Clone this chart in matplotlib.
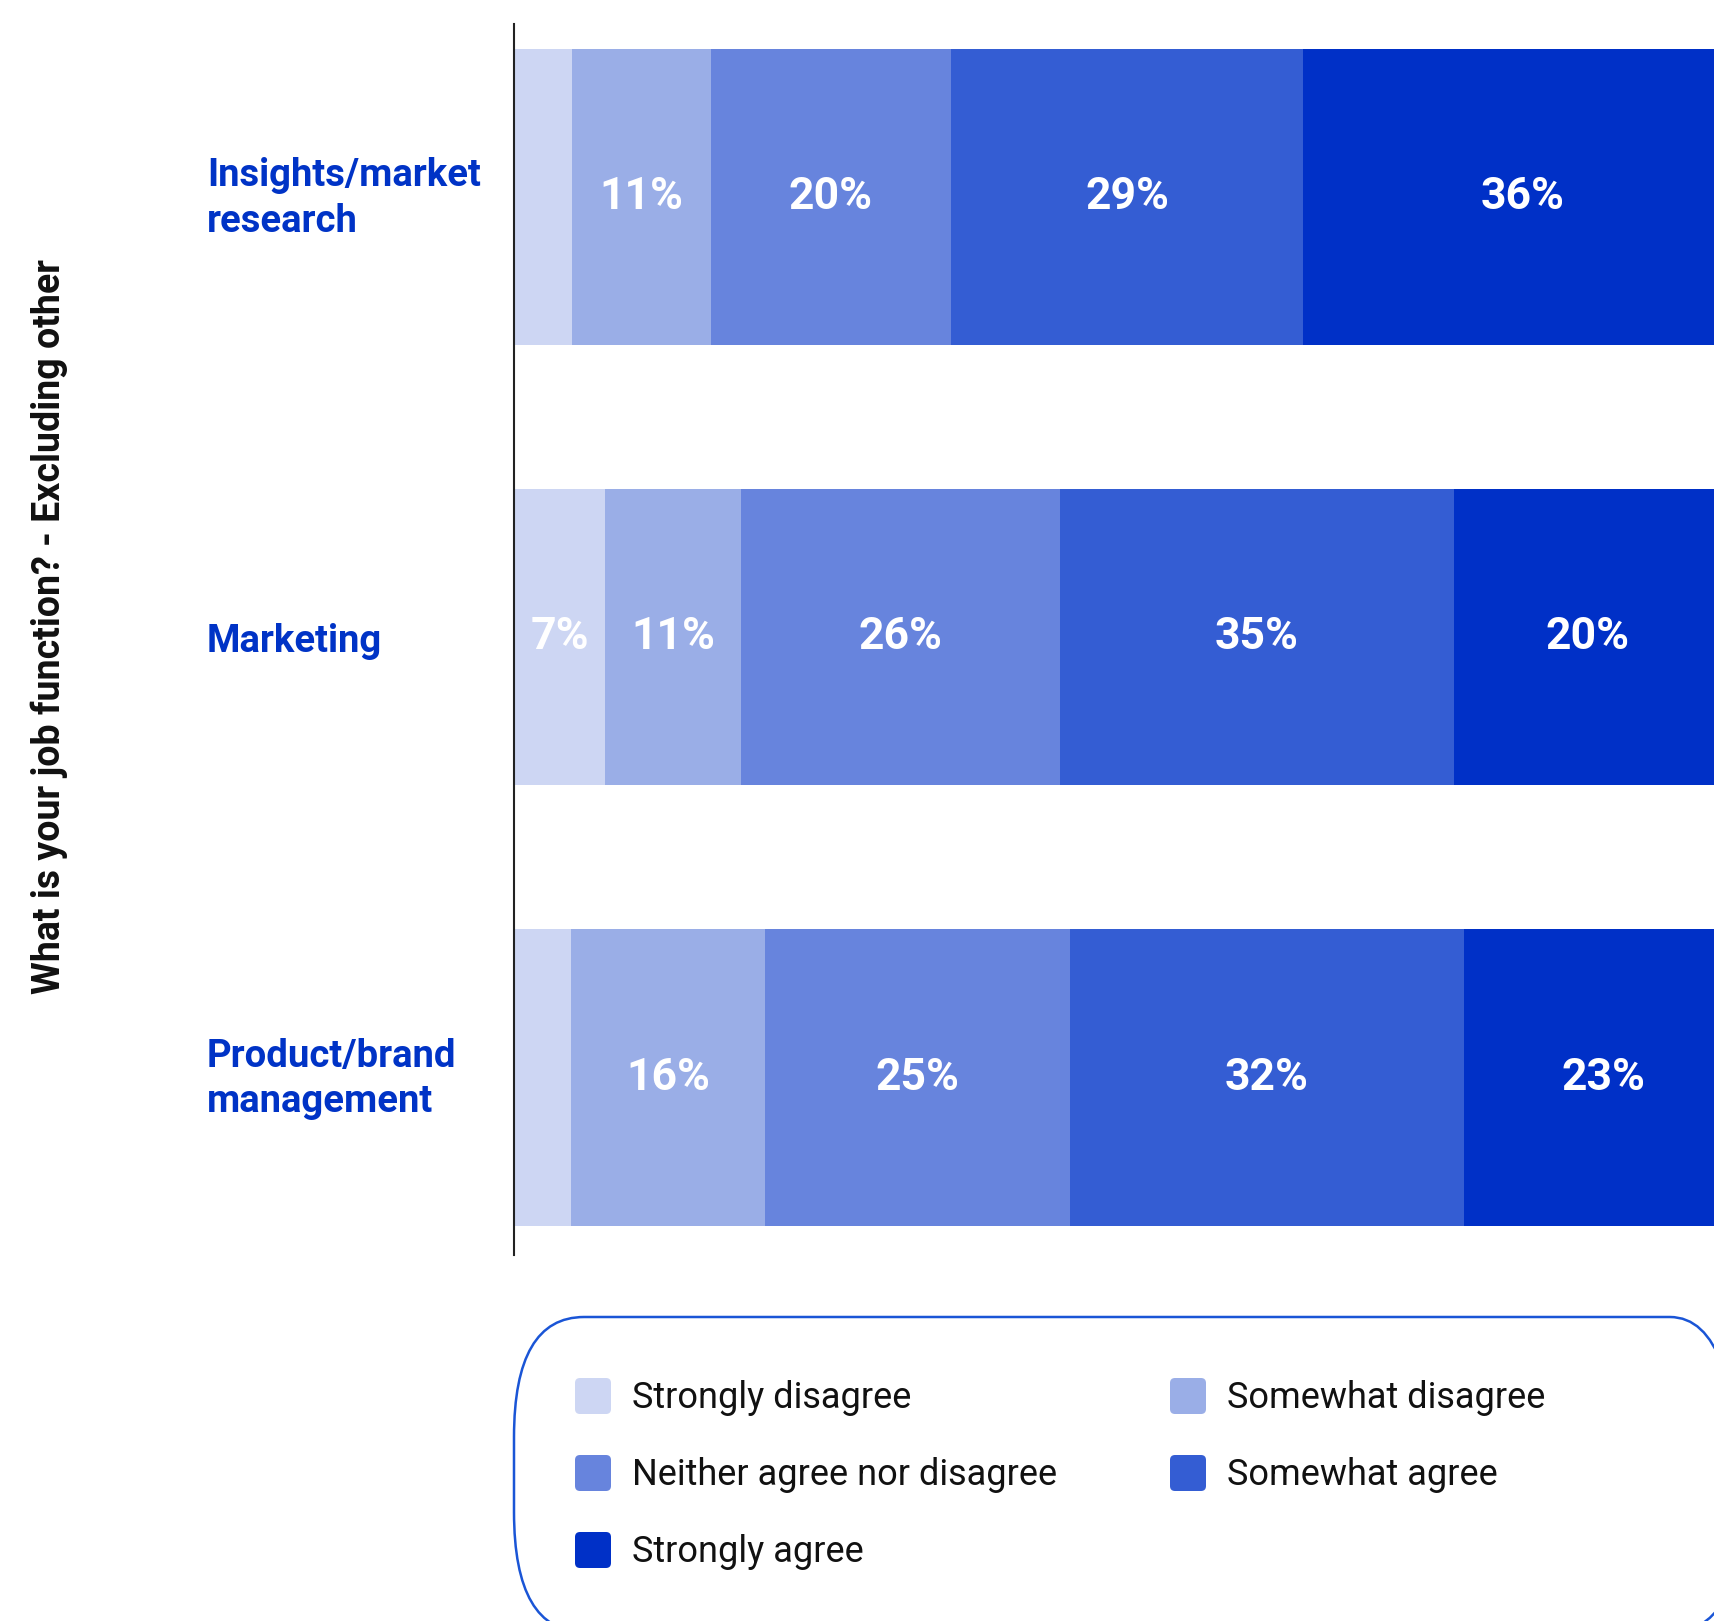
import matplotlib
matplotlib.use("Agg")
import matplotlib.pyplot as plt
import matplotlib.transforms as mtransforms
from matplotlib.patches import FancyBboxPatch
import numpy as np

# ---------------- data ----------------
categories = ["Insights/market\nresearch", "Marketing", "Product/brand\nmanagement"]
responses = ["Strongly disagree", "Somewhat disagree", "Neither agree nor disagree",
             "Somewhat agree", "Strongly agree"]
strongly_disagree = [4.75, 7.5, 4.7]
somewhat_disagree = [11.4, 11.1, 15.9]
neither = [19.7, 26.2, 25.0]
somewhat_agree = [28.9, 32.3, 32.3]
strongly_agree = [36.0, 22.0, 23.0]
labels_strongly_disagree = ["", "7%", ""]
labels_somewhat_disagree = ["11%", "11%", "16%"]
labels_neither = ["20%", "26%", "25%"]
labels_somewhat_agree = ["29%", "35%", "32%"]
labels_strongly_agree = ["36%", "20%", "23%"]

series = [strongly_disagree, somewhat_disagree, neither, somewhat_agree, strongly_agree]
series_labels = [labels_strongly_disagree, labels_somewhat_disagree, labels_neither,
                 labels_somewhat_agree, labels_strongly_agree]
colors = ["#CDD6F3", "#9AAEE7", "#6784DD", "#345DD3", "#0030C7"]
cat_color = "#0033C6"

# ---------------- figure ----------------
W, H = 1714, 1621
fig = plt.figure(figsize=(W / 100, H / 100), dpi=100)
fig.patch.set_facecolor("white")

ax = fig.add_axes([514 / W, 1 - 1255 / H, 1200 / W, (1255 - 24) / H])
ax.set_xlim(0, 98.45)
ax.set_ylim(2.403, -0.393)

y = np.arange(len(categories))
left = np.zeros(len(categories))
for vals, labs, col in zip(series, series_labels, colors):
    vals = np.asarray(vals)
    ax.barh(y, vals, left=left, height=0.673, color=col, edgecolor="none")
    for yi, l, v, t in zip(y, left, vals, labs):
        if t:
            ax.text(l + v / 2, yi, t, ha="center", va="center", color="white",
                    fontsize=32, fontweight="bold", family="Roboto")
    left += vals

for s in ["top", "right", "bottom"]:
    ax.spines[s].set_visible(False)
ax.spines["left"].set_color("#222222")
ax.spines["left"].set_linewidth(1.5)
ax.set_xticks([])
ax.set_yticks(y)
ax.set_yticklabels(categories, ha="left", color=cat_color, fontsize=27.5,
                   fontweight="bold", family="Roboto", linespacing=1.3)
ax.tick_params(axis="y", length=0, pad=307 * 72 / 100)
for lab in ax.get_yticklabels():
    if "\n" in lab.get_text():
        lab.set_transform(lab.get_transform() +
                          mtransforms.ScaledTranslation(0, 7 / 100, fig.dpi_scale_trans))

fig.text(49 / W, 1 - 627 / H, "What is your job function? - Excluding other",
         rotation=90, ha="center", va="center", fontsize=27, fontweight="bold",
         family="Roboto", color="#111111")

# ---------------- legend ----------------
box = FancyBboxPatch((514 / W, 1 - 1632 / H), (1740 - 514) / W, (1632 - 1317) / H,
                     boxstyle=f"round,pad=0,rounding_size={70 / W}",
                     mutation_aspect=(120 / H) / (70 / W),
                     transform=fig.transFigure, fill=False, edgecolor="#1A55D6",
                     linewidth=1.8, clip_on=False)
fig.add_artist(box)

col_x = [575, 1170]
row_y = [1396, 1473, 1550]
sq = 36
for i, (name, col) in enumerate(zip(responses, colors)):
    cx = col_x[i % 2]
    cy = row_y[i // 2]
    p = FancyBboxPatch((cx / W, 1 - (cy + sq / 2) / H), sq / W, sq / H,
                       boxstyle=f"round,pad=0,rounding_size={5 / W}",
                       mutation_aspect=W / H, transform=fig.transFigure,
                       facecolor=col, edgecolor="none")
    fig.add_artist(p)
    fig.text((cx + sq + 21) / W, 1 - (cy + 12) / H, name, ha="left", va="baseline",
             fontsize=26, family="Roboto", color="#111111")

fig.savefig("out.png", dpi=100, facecolor="white")
